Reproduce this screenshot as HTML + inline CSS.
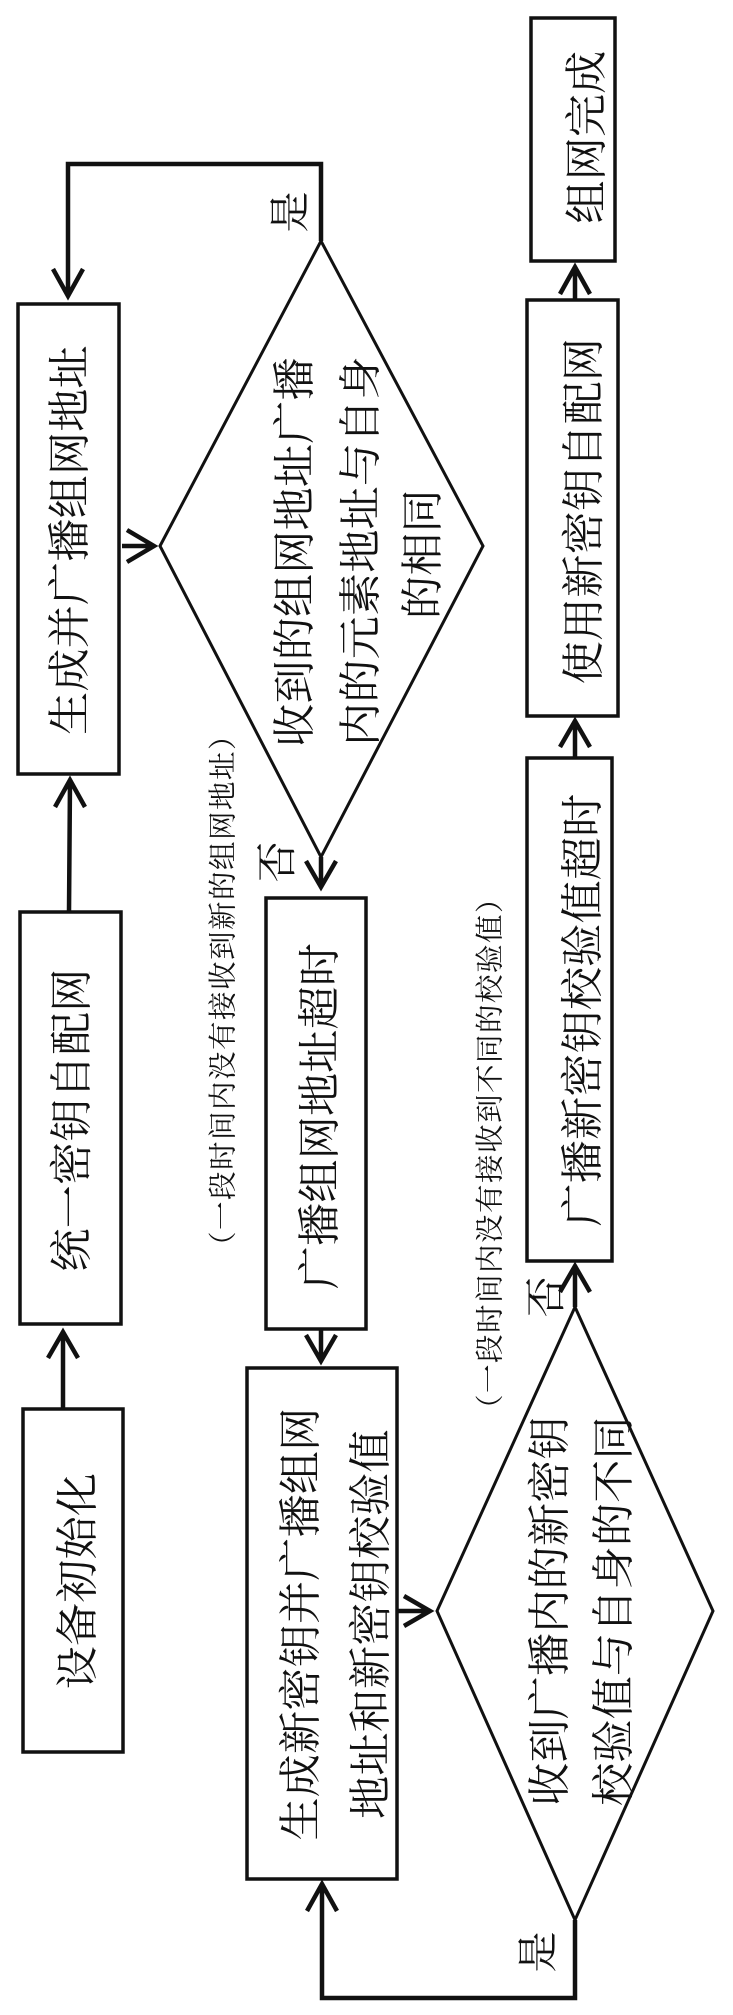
<!DOCTYPE html>
<html><head><meta charset="utf-8"><style>
html,body{margin:0;padding:0;background:#fff;width:733px;height:2015px;overflow:hidden}
svg{display:block}
text{font-family:"Liberation Serif","Noto Serif CJK SC",serif;fill:#111;text-anchor:middle;dominant-baseline:central}
.t{font-size:43px;letter-spacing:0.3px}
.s{font-size:28.5px;letter-spacing:1.5px}
.l{font-size:41px}
rect{fill:none;stroke:#111;stroke-width:3.5}
polygon{fill:none;stroke:#111;stroke-width:3}
.c{fill:none;stroke:#111;stroke-width:4.5}
</style></head><body>
<svg width="733" height="2015" viewBox="0 0 733 2015" xmlns="http://www.w3.org/2000/svg">
<rect x="531" y="18" width="84" height="243"/>
<rect x="527" y="300" width="91" height="416"/>
<rect x="527" y="758" width="85" height="503"/>
<rect x="18" y="304" width="101" height="470"/>
<rect x="20" y="912" width="101" height="412"/>
<rect x="23" y="1409" width="100" height="343"/>
<rect x="266" y="898" width="100" height="431"/>
<rect x="247" y="1368" width="150" height="511"/>
<polygon points="160,546 321,241 483,546 321,857"/>
<polygon points="437,1611 575,1307 713,1611 575,1920"/>

<path class="c" d="M321 241V164H68V296M53 269L68 296L83 269"/>
<path class="c" d="M122 546H154M127 530L154 546L127 562"/>
<path class="c" d="M69 912L70 780M55 807L70 780L85 807"/>
<path class="c" d="M63 1409V1332M48 1358L63 1332L78 1358"/>
<path class="c" d="M321 857V887M306 861L321 887L336 861"/>
<path class="c" d="M321 1329V1361M306 1335L321 1361L336 1335"/>
<path class="c" d="M397 1611H430M404 1596L430 1611L404 1626"/>
<path class="c" d="M575 1920V1998H322V1884M307 1911L322 1884L337 1911"/>
<path class="c" d="M575 1307V1266M560 1292L575 1266L590 1292"/>
<path class="c" d="M575 758V721M560 747L575 721L590 747"/>
<path class="c" d="M575 300V267M560 294L575 267L590 294"/>

<text class="t" transform="translate(588,137) rotate(-90)">组网完成</text>
<text class="t" transform="translate(585,511) rotate(-90)">使用新密钥自配网</text>
<text class="t" transform="translate(584,1010) rotate(-90)">广播新密钥校验值超时</text>
<text class="t" transform="translate(71,540) rotate(-90)">生成并广播组网地址</text>
<text class="t" transform="translate(73,1120) rotate(-90)">统一密钥自配网</text>
<text class="t" transform="translate(321,1116) rotate(-90)">广播组网地址超时</text>
<text class="t" transform="translate(79,1581) rotate(-90)">设备初始化</text>
<text class="t" transform="translate(302,1624) rotate(-90)">生成新密钥并广播组网</text>
<text class="t" transform="translate(372,1624) rotate(-90)">地址和新密钥校验值</text>
<text class="t" transform="translate(296,552) rotate(-90)">收到的组网地址广播</text>
<text class="t" transform="translate(362,551) rotate(-90)">内的元素地址与自身</text>
<text class="t" transform="translate(424,554) rotate(-90)">的相同</text>
<text class="t" transform="translate(551,1611) rotate(-90)">收到广播内的新密钥</text>
<text class="t" transform="translate(615,1611) rotate(-90)">校验值与自身的不同</text>
<text class="l" transform="translate(290,212) rotate(-90)">是</text>
<text class="l" transform="translate(277,862) rotate(-90)">否</text>
<text class="l" transform="translate(546,1297) rotate(-90)">否</text>
<text class="l" transform="translate(538,1952) rotate(-90)">是</text>
<text class="s" transform="translate(224,990) rotate(-90)">（一段时间内没有接收到新的组网地址）</text>
<text class="s" transform="translate(491,1153) rotate(-90)">（一段时间内没有接收到不同的校验值）</text>
</svg>
</body></html>
